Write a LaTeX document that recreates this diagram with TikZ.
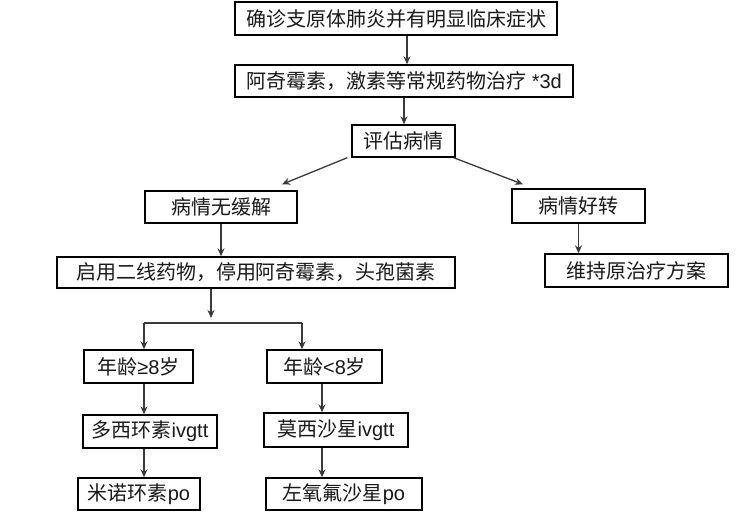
\documentclass[tikz,border=0pt]{standalone}
\usepackage{fontspec}
\setmainfont{Noto Sans CJK SC}
\newfontfamily\lat{Liberation Sans}
\usetikzlibrary{arrows.meta}
\definecolor{linegray}{HTML}{3A3A3A}
\begin{document}
\begin{tikzpicture}[x=1pt,y=-1pt,
  box/.style={draw=black,line width=1.4pt,rectangle,inner sep=0pt,
    font=\fontsize{20}{24}\selectfont,text=black!90},
  arr/.style={draw=linegray,line width=1.3pt,-{Stealth[length=8pt,width=7pt]}},
  ln/.style={draw=linegray,line width=1.3pt}]
\useasboundingbox[fill=white] (0,0) rectangle (745,531);
\node[box,minimum width=322pt,minimum height=33pt] (b1) at (396,18.5) {确诊支原体肺炎并有明显临床症状};
\node[box,minimum width=338pt,minimum height=32pt] (b2) at (404,81) {阿奇霉素，激素等常规药物治疗{\lat\ *3d}};
\node[box,minimum width=103pt,minimum height=32pt] (b3) at (403.5,141) {评估病情};
\node[box,minimum width=152pt,minimum height=32pt] (b4) at (221,207) {病情无缓解};
\node[box,minimum width=133pt,minimum height=34pt] (b5) at (578.5,206) {病情好转};
\node[box,minimum width=398pt,minimum height=31pt] (b6) at (256,272.5) {启用二线药物，停用阿奇霉素，头孢菌素};
\node[box,minimum width=183pt,minimum height=33pt] (b7) at (636.5,270.5) {维持原治疗方案};
\node[box,minimum width=109pt,minimum height=33pt] (b8) at (138.5,366.5) {年龄{\lat ≥8}岁};
\node[box,minimum width=115pt,minimum height=33pt] (b9) at (324.5,366.5) {年龄{\lat <8}岁};
\node[box,minimum width=134pt,minimum height=33pt] (b10) at (150,431.5) {多西环素{\lat ivgtt}};
\node[box,minimum width=144pt,minimum height=34pt] (b11) at (336,430) {莫西沙星{\lat ivgtt}};
\node[box,minimum width=122pt,minimum height=32pt] (b12) at (139,494) {米诺环素{\lat po}};
\node[box,minimum width=156pt,minimum height=32pt] (b13) at (344,494) {左氧氟沙星{\lat po}};
\coordinate (hl) at (144,323);
\coordinate (hr) at (302,323);
\coordinate (hs) at (211,318);
\draw[arr] ([xshift=11pt]b1.south) -- ([xshift=3pt]b2.north);
\draw[arr] (b2.south) -- (b2.south |- b3.north);
\draw[arr] ([xshift=-4pt]b3.south west) -- ([xshift=61pt,yshift=6pt]b4.north);
\draw[arr] ([xshift=-2pt]b3.south east) -- ([xshift=-55.5pt,yshift=4pt]b5.north);
\draw[arr] (b4.south) -- (b4.south |- b6.north);
\draw[arr] (b5.south) -- (b5.south |- b7.north);
\draw[arr] (b6.south -| hs) -- (hs);
\draw[ln] (hl) -- (hr);
\draw[arr] (hl) -- (hl |- b8.north);
\draw[arr] (hr) -- (hr |- b9.north);
\draw[arr] (b8.south -| hl) -- (hl |- b10.north);
\draw[arr] ([xshift=-2.5pt]b9.south) -- ([xshift=-14pt]b11.north);
\draw[arr] (b10.south -| hl) -- (hl |- b12.north);
\draw[arr] ([xshift=-14pt]b11.south) -- ([xshift=-22pt]b13.north);
\end{tikzpicture}
\end{document}
